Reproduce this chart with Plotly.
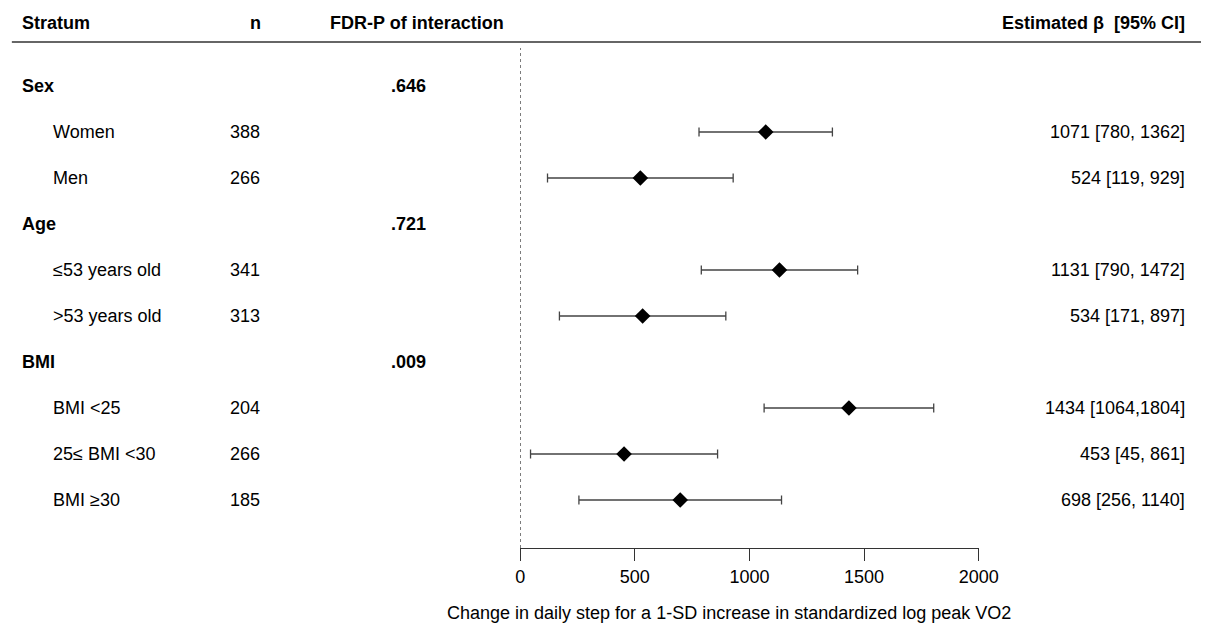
import plotly.graph_objects as go

# ---- data ----
row_labels = ["Sex", "Women", "Men", "Age", "≤53 years old", ">53 years old",
              "BMI", "BMI <25", "25≤ BMI <30", "BMI ≥30"]
is_header = [True, False, False, True, False, False, True, False, False, False]
n_values = ["", "388", "266", "", "341", "313", "", "204", "266", "185"]
p_values = [".646", "", "", ".721", "", "", ".009", "", "", ""]
beta = [None, 1071, 524, None, 1131, 534, None, 1434, 453, 698]
ci_low = [None, 780, 119, None, 790, 171, None, 1064, 45, 256]
ci_high = [None, 1362, 929, None, 1472, 897, None, 1804, 861, 1140]
ci_text = ["", "1071 [780, 1362]", "524 [119, 929]", "", "1131 [790, 1472]",
           "534 [171, 897]", "", "1434 [1064,1804]", "453 [45, 861]", "698 [256, 1140]"]
x_ticks = [0, 500, 1000, 1500, 2000]

W, H = 1221, 626
FONT = "Liberation Sans, Arial, sans-serif"
FS = 18

rows = list(range(len(row_labels)))
pts_y = [r for r, b in zip(rows, beta) if b is not None]
pts_x = [b for b in beta if b is not None]
err_plus = [h - b for b, h in zip(beta, ci_high) if b is not None]
err_minus = [b - l for b, l in zip(beta, ci_low) if b is not None]

fig = go.Figure()
fig.add_trace(go.Scatter(
    x=pts_x, y=pts_y, mode="markers",
    marker=dict(symbol="diamond", size=12, color="black"),
    error_x=dict(type="data", array=err_plus, arrayminus=err_minus,
                 color="#444", thickness=1.3, width=4.5),
    showlegend=False, hoverinfo="skip"))

# pixel layout
axis_px = 548
row0_px, row_step = 86, 46
y_top = -row0_px / row_step
y_bot = (axis_px - row0_px) / row_step

def px2paper(px):
    return px / W

annotations = []
# headers
hdr_y = 1 - 23 / H
annotations += [
    dict(x=px2paper(15), y=hdr_y, text="<b>Stratum</b>", xanchor="left"),
    dict(x=px2paper(256), y=hdr_y, text="<b>n</b>", xanchor="center"),
    dict(x=px2paper(421), y=hdr_y, text="<b>FDR-P of interaction</b>", xanchor="center"),
    dict(x=px2paper(1207), y=hdr_y, text="<b>Estimated β  [95% CI]</b>", xanchor="right"),
]
for a in annotations:
    a.update(xref="paper", yref="paper", yanchor="middle", showarrow=False,
             font=dict(family=FONT, size=FS, color="black"))

for r in rows:
    common = dict(xref="paper", yref="y", y=r, yanchor="middle", showarrow=False,
                  font=dict(family=FONT, size=FS, color="black"))
    if is_header[r]:
        annotations.append(dict(x=px2paper(15), text="<b>%s</b>" % row_labels[r],
                                xanchor="left", **common))
    else:
        annotations.append(dict(x=px2paper(47), text=row_labels[r], xanchor="left", **common))
    if n_values[r]:
        annotations.append(dict(x=px2paper(245), text=n_values[r], xanchor="center", **common))
    if p_values[r]:
        annotations.append(dict(x=px2paper(412), text="<b>%s</b>" % p_values[r],
                                xanchor="center", **common))
    if ci_text[r]:
        annotations.append(dict(x=px2paper(1207), text=ci_text[r], xanchor="right", **common))

annotations.append(dict(xref="paper", yref="paper", x=px2paper(739), y=1 - 613 / H,
                        text="Change in daily step for a 1-SD increase in standardized log peak VO2",
                        xanchor="center", yanchor="middle", showarrow=False,
                        font=dict(family=FONT, size=FS, color="black")))

shapes = [
    dict(type="line", xref="paper", yref="paper", x0=px2paper(7), x1=1,
         y0=1 - 42 / H, y1=1 - 42 / H, line=dict(color="#333", width=1.5)),
    dict(type="line", xref="x", yref="paper", x0=0, x1=0,
         y0=1 - axis_px / H, y1=1 - 48 / H, line=dict(color="#333", width=1.2, dash="dot")),
]

fig.update_layout(
    width=W, height=H, margin=dict(l=0, r=0, t=0, b=0), autosize=False,
    paper_bgcolor="white", plot_bgcolor="white",
    annotations=annotations, shapes=shapes,
    font=dict(family=FONT, size=FS, color="black"),
    xaxis=dict(domain=[526 / W, 994 / W], range=[0, 2000], tickvals=x_ticks,
               showgrid=False, zeroline=False, showline=True, linecolor="#333", linewidth=1.2,
               ticks="outside", ticklen=12, tickcolor="#333", tickwidth=1.2,
               tickfont=dict(family=FONT, size=FS, color="black"), anchor="y"),
    yaxis=dict(domain=[1 - axis_px / H, 1], range=[y_bot, y_top], visible=False,
               showgrid=False, zeroline=False),
)

post = (
    "document.documentElement.style.margin='0';"
    "document.documentElement.style.overflow='hidden';"
    "document.body.style.margin='0';"
    "document.body.style.overflow='hidden';"
    "var gd=document.getElementById('{plot_id}');"
    "gd.style.width='%dpx';gd.style.height='%dpx';"
    "Plotly.relayout(gd,{width:%d,height:%d});"
    "setTimeout(function(){Plotly.relayout(gd,{width:%d,height:%d});},50);"
) % (W, H, W, H, W, H)

fig.write_html("out.html",
               config={"responsive": False, "displayModeBar": False},
               post_script=post)
